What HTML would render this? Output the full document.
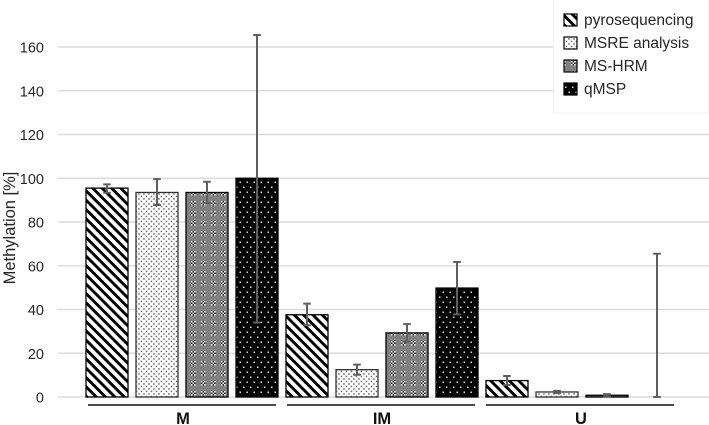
<!DOCTYPE html>
<html lang="en">
<head>
<meta charset="utf-8">
<title>Methylation chart</title>
<style>
html,body{margin:0;padding:0;background:#fff;width:709px;height:425px;overflow:hidden}
svg{display:block;font-family:"Liberation Sans",sans-serif}
</style>
</head>
<body>
<svg id="chart" xmlns="http://www.w3.org/2000/svg" width="709" height="425" viewBox="0 0 709 425">
<defs>
<pattern id="p0" width="6.6" height="6.6" patternUnits="userSpaceOnUse" patternTransform="rotate(45 0 0)">
<rect width="6.6" height="6.6" fill="#fff"/>
<rect width="6.6" height="2.9" fill="#000"/>
</pattern>
<pattern id="p1" width="5" height="5" patternUnits="userSpaceOnUse">
<rect width="5" height="5" fill="#fff"/>
<rect x="0.7" y="0.7" width="1.5" height="1.5" fill="#666"/>
<rect x="3.2" y="3.2" width="1.5" height="1.5" fill="#666"/>
</pattern>
<pattern id="p2" width="10" height="10" patternUnits="userSpaceOnUse">
<rect width="10" height="10" fill="#808080"/>
<rect x="1" y="1" width="1.5" height="1.5" fill="#fff"/>
<rect x="4" y="1" width="1.5" height="1.5" fill="#fff"/>
<rect x="2.5" y="2.5" width="1.5" height="1.5" fill="#fff"/>
<rect x="1" y="4" width="1.5" height="1.5" fill="#fff"/>
<rect x="4" y="4" width="1.5" height="1.5" fill="#fff"/>
<rect x="2.5" y="1" width="1.5" height="1.5" fill="#222"/>
<rect x="1" y="2.5" width="1.5" height="1.5" fill="#222"/>
<rect x="4" y="2.5" width="1.5" height="1.5" fill="#222"/>
<rect x="2.5" y="4" width="1.5" height="1.5" fill="#222"/>
</pattern>
<pattern id="p3" width="7" height="10" patternUnits="userSpaceOnUse">
<rect width="7" height="10" fill="#000"/>
<rect x="1.5" y="1.5" width="1.5" height="1.5" fill="#ddd"/>
<rect x="5" y="6.5" width="1.5" height="1.5" fill="#ddd"/>
</pattern>
</defs>
<g id="grid"></g>
<g id="bars"></g>
<g id="errors"></g>
<g id="groups"></g>
<g id="ticks"></g>
<text transform="translate(15 228) rotate(-90)" text-anchor="middle" font-size="16.5" fill="#262626">Methylation [%]</text>
<g id="legend">
<rect x="553.5" y="-1" width="155" height="114" fill="#fff" stroke="#f2f2f2"/>
</g>
</svg>
<script>
const categories = ["M", "IM", "U"];
const seriesNames = ["pyrosequencing", "MSRE analysis", "MS-HRM", "qMSP"];
const yTicks = [0, 20, 40, 60, 80, 100, 120, 140, 160];
const valuesPyro = [95.5, 37.6, 7.5];
const valuesMsre = [93.5, 12.5, 2.3];
const valuesHrm = [93.5, 29.3, 0.8];
const valuesQmsp = [100, 49.8, 0];
const upperPyro = [97.2, 42.7, 9.6];
const upperMsre = [99.6, 14.8, 2.8];
const upperHrm = [98.4, 33.3, 1.3];
const upperQmsp = [165.5, 61.7, 65.5];
const lowerPyro = [93.4, 32.8, 5.5];
const lowerMsre = [87.8, 10.2, 1.8];
const lowerHrm = [88.7, 25.3, 0.3];
const lowerQmsp = [34, 37.8, 0];

const svg = document.getElementById('chart');
const NS = 'http://www.w3.org/2000/svg';
const values = [valuesPyro, valuesMsre, valuesHrm, valuesQmsp];
const uppers = [upperPyro, upperMsre, upperHrm, upperQmsp];
const lowers = [lowerPyro, lowerMsre, lowerHrm, lowerQmsp];
function yScale(v) { return 397 - v * 2.1875; }
function groupCenter(i) { return 182 + i * 200; }
function barLeft(g, s) { return groupCenter(g) - 96 + s * 50; }
function mk(tag, attrs, parent) {
  const el = document.createElementNS(NS, tag);
  for (const k in attrs) el.setAttribute(k, attrs[k]);
  parent.appendChild(el);
  return el;
}
const gridG = document.getElementById('grid');
const ticksG = document.getElementById('ticks');
yTicks.forEach(function (t) {
  const line = mk('line', {x1: 58, x2: 709, y1: yScale(t), y2: yScale(t), stroke: '#dcdcdc', 'stroke-width': 1.4}, gridG);
  
  
  const label = mk('text', {x: 44, y: yScale(t) + 5.5, 'text-anchor': 'end', 'font-size': 14.5, fill: '#262626'}, ticksG);
  label.textContent = t;
  
  
});
const barsG = document.getElementById('bars');
const errG = document.getElementById('errors');
categories.forEach(function (c, g) {
  values.forEach(function (vals, s) {
    const x = barLeft(g, s);
    const top = yScale(vals[g]);
    if (vals[g] > 0) {
      const bar = mk('rect', {x: x, y: top, width: 42, height: yScale(0) - top, fill: 'url(#p' + s + ')', stroke: s === 1 ? '#333' : '#000', 'stroke-width': 1.3}, barsG);
      
      
    }
    const cx = x + 21;
    const yU = yScale(uppers[s][g]);
    const yL = yScale(lowers[s][g]);
    const err = mk('path', {d: 'M' + (cx - 3.8) + ' ' + yU + 'H' + (cx + 3.8) + 'M' + cx + ' ' + yU + 'V' + yL + 'M' + (cx - 3.8) + ' ' + yL + 'H' + (cx + 3.8), fill: 'none', stroke: '#5f5f5f', 'stroke-width': 2}, errG);
    
    
  });
});
const groupsG = document.getElementById('groups');
categories.forEach(function (c, g) {
  const cx = groupCenter(g);
  const line = mk('line', {x1: cx - 94 - g, x2: cx + 94 - g, y1: 405, y2: 405, stroke: '#111', 'stroke-width': 1.6}, groupsG);
  
  
  const label = mk('text', {x: cx + 1 - g, y: 424, 'text-anchor': 'middle', 'font-size': 16.5, 'font-weight': 'bold', fill: '#111'}, groupsG);
  label.textContent = c;
  
  
});
const legendG = document.getElementById('legend');
seriesNames.forEach(function (n, i) {
  const cy = 20 + i * 23;
  const sw = mk('rect', {x: 564, y: cy - 6, width: 13, height: 12, fill: 'url(#p' + i + ')', stroke: '#000', 'stroke-width': 1.2}, legendG);
  
  
  const t = mk('text', {x: 584, y: cy + 5, 'font-size': 15.5, fill: '#262626'}, legendG);
  t.textContent = n;
  
  
});
</script>
</body>
</html>
